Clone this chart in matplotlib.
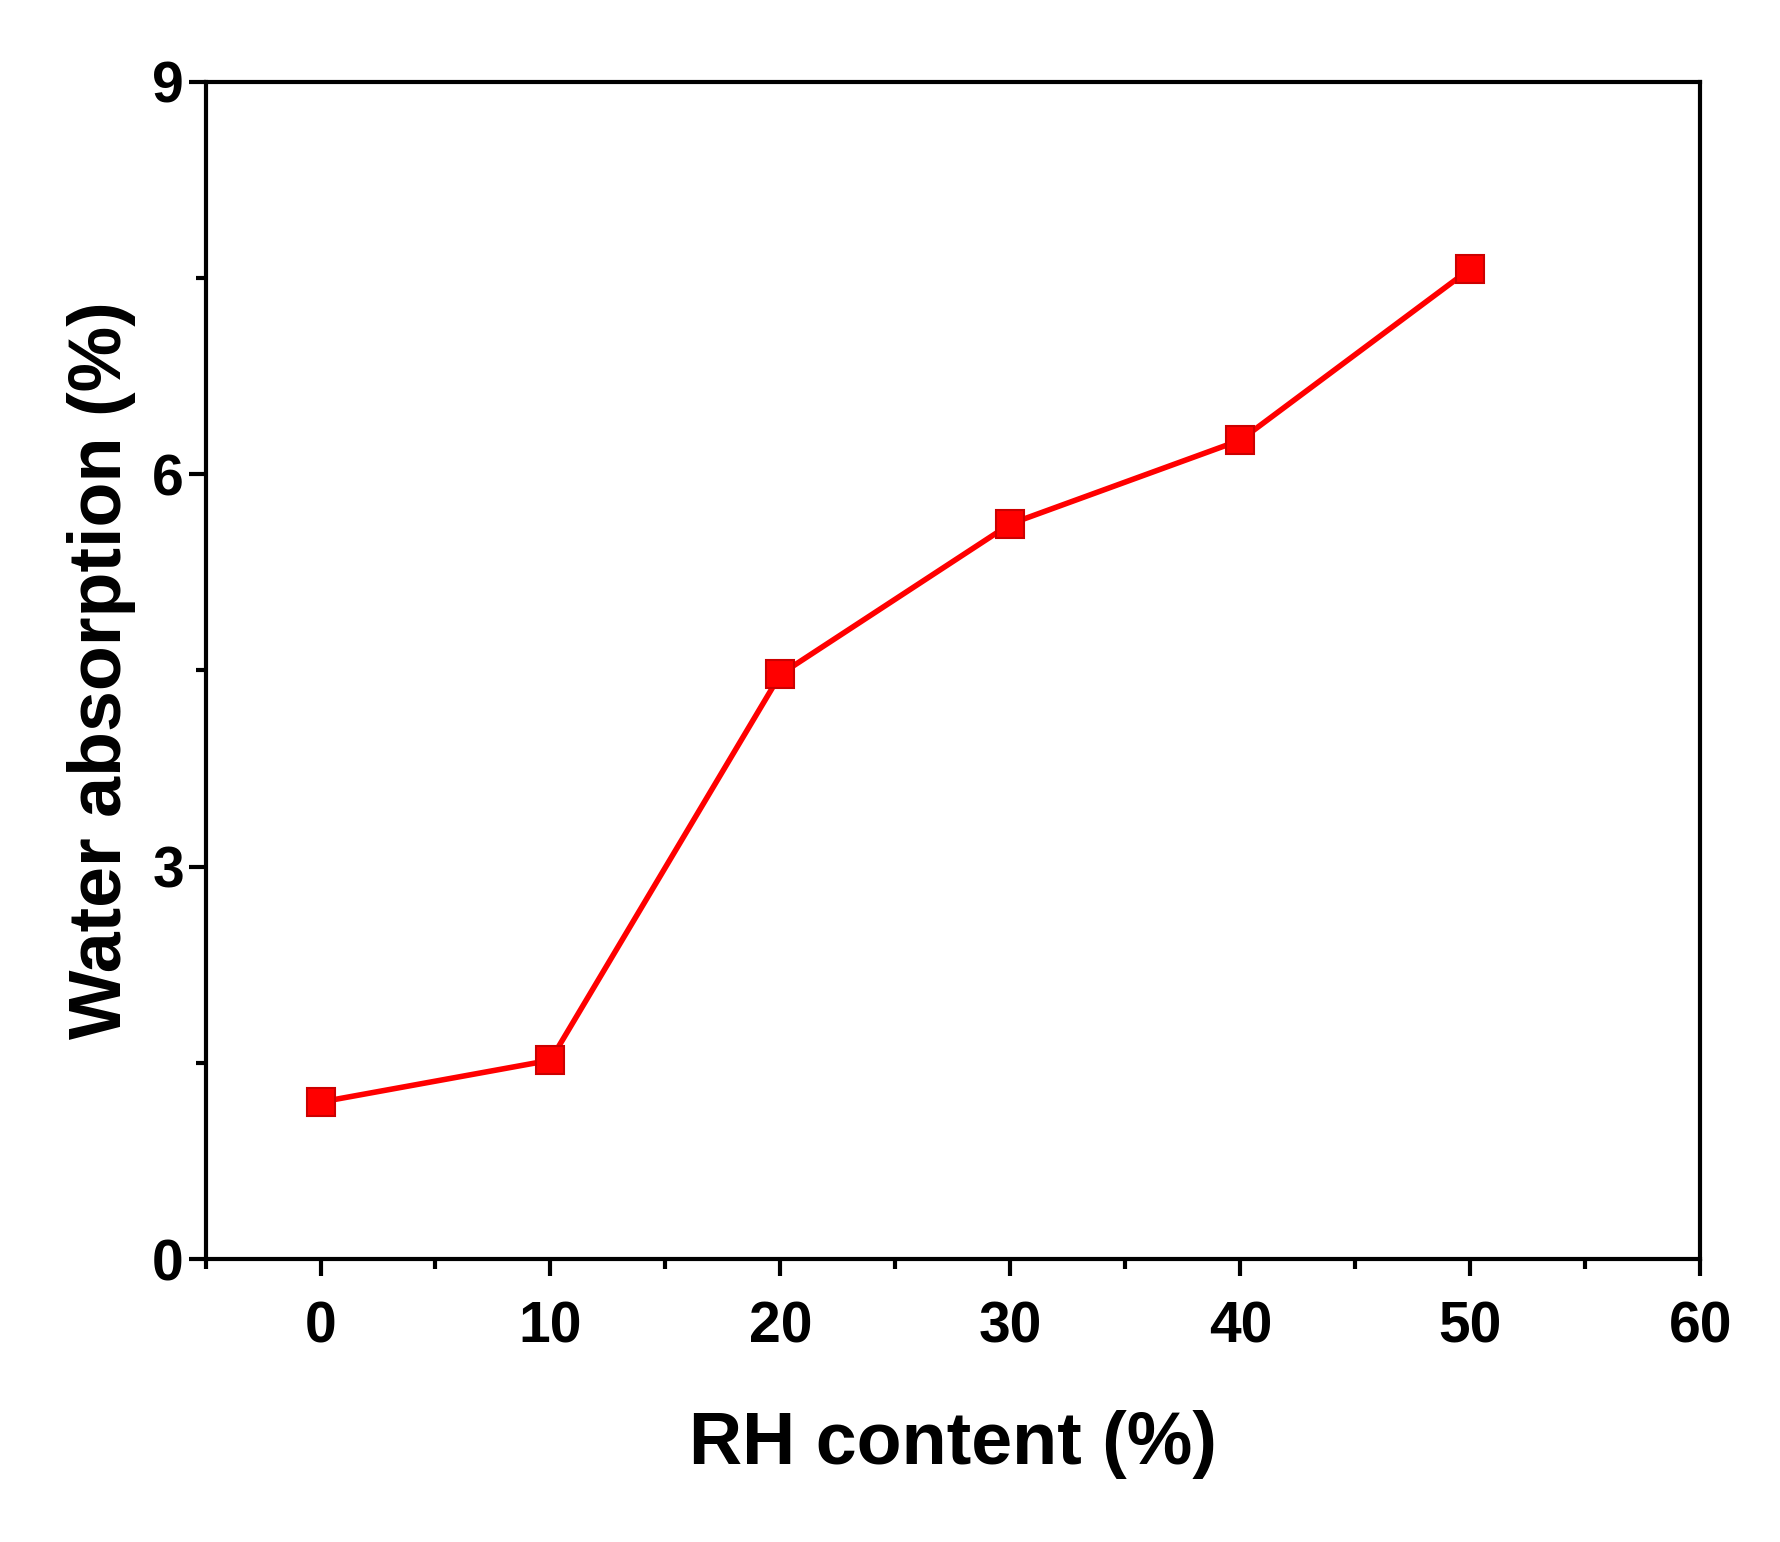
import matplotlib.pyplot as plt

rh = [0, 10, 20, 30, 40, 50]
water = [1.20, 1.52, 4.47, 5.62, 6.26, 7.57]

plt.rcParams['font.family'] = ['Liberation Sans', 'DejaVu Sans']
plt.rcParams['font.weight'] = 'bold'

fig = plt.figure(figsize=(17.81, 15.42), dpi=100)
ax = fig.add_axes([0.1154, 0.1835, 0.8393, 0.7635])
ax.plot(rh, water, color='#ff0000', lw=4, marker='s', ms=20, mec='#cc0000', mew=1.5)

ax.set_xlim(-5, 60)
ax.set_ylim(0, 9)
ax.set_xticks(range(0, 61, 10))
ax.set_xticks(range(-5, 61, 10), minor=True)
ax.set_yticks([0, 3, 6, 9])
ax.set_yticks([1.5, 4.5, 7.5], minor=True)
ax.tick_params(which='both', direction='out', width=3, labelsize=41)
ax.tick_params(which='major', length=12)
ax.tick_params(which='minor', length=7)
ax.tick_params(axis='x', pad=18)
for s in ax.spines.values():
    s.set_linewidth(3)
for lab in ax.get_xticklabels() + ax.get_yticklabels():
    lab.set_fontweight('bold')

ax.set_xlabel('RH content (%)', fontsize=53, fontweight='bold', labelpad=40)
ax.set_ylabel('Water absorption (%)', fontsize=53, fontweight='bold', labelpad=12)

fig.savefig('out.png', dpi=100)
